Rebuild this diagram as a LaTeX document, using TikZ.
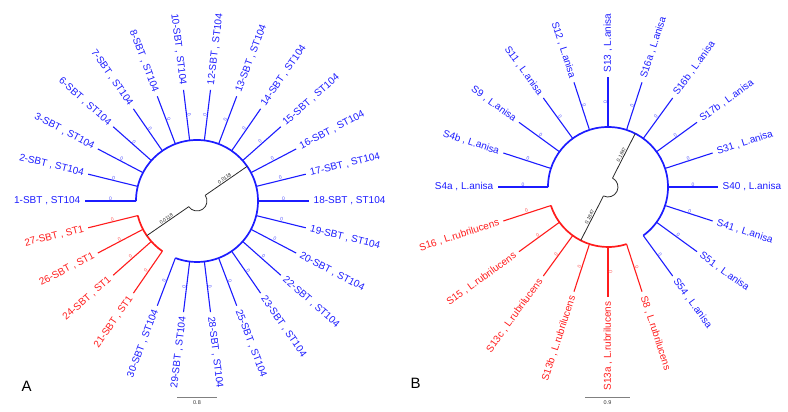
\documentclass[tikz,border=0pt]{standalone}
\usepackage{fontspec}
\setmainfont{Liberation Sans}
\usetikzlibrary{positioning,calc}
\definecolor{cladeblue}{RGB}{28,28,255}
\definecolor{cladered}{RGB}{255,28,28}
\definecolor{rootgray}{RGB}{40,40,40}

\begin{document}
\begin{tikzpicture}[
    x=1pt, y=1pt,
    leaf/.style={line width=1.1pt},
    clade/.style={line width=1.7pt},
    rootline/.style={draw=rootgray, line width=0.8pt},
    taxon/.style={inner sep=0pt, font=\fontsize{10}{12}\selectfont},
    zero/.style={inner sep=0.6pt, font=\fontsize{5}{6}\selectfont},
    blen/.style={inner sep=0.8pt, text=rootgray, font=\fontsize{5}{6}\selectfont},
    scalebar/.style={draw=gray, line width=0.9pt},
    scaletext/.style={inner sep=0pt, text=black!80, font=\fontsize{5.5}{6}\selectfont},
    panel/.style={inner sep=0pt, font=\fontsize{15}{18}\selectfont}
]
\useasboundingbox (0,0) rectangle (788,412);

% (A) SBT isolates
\coordinate (ca) at (197,211);
\foreach \nm/\st [count=\i from 0] in {1-SBT/ST104, 2-SBT/ST104, 3-SBT/ST104, 6-SBT/ST104, 7-SBT/ST104, 8-SBT/ST104, 10-SBT/ST104, 12-SBT/ST104, 13-SBT/ST104, 14-SBT/ST104, 15-SBT/ST104, 16-SBT/ST104, 17-SBT/ST104, 18-SBT/ST104, 19-SBT/ST104, 20-SBT/ST104, 22-SBT/ST104, 23-SBT/ST104, 25-SBT/ST104, 28-SBT/ST104, 29-SBT/ST104, 30-SBT/ST104, 21-SBT/ST1, 24-SBT/ST1, 26-SBT/ST1, 27-SBT/ST1}{
    \pgfmathsetmacro{\ang}{180-\i*360/26}
    \pgfmathtruncatemacro{\flip}{(\ang>90 || \ang<=-90)}
    \ifnum\i<22 \def\col{cladeblue}\else\def\col{cladered}\fi
    \ifnum\flip=1 \pgfmathsetmacro{\rot}{\ang+180}\def\anc{east}\else\let\rot\ang\def\anc{west}\fi
    \coordinate (ain\i) at ($(ca)+(\ang:61)$);
    \coordinate (aout\i) at ($(ca)+(\ang:112)$);
    \draw[leaf, color=\col] (ain\i) -- (aout\i);
    \path (ain\i) -- node[zero, sloped, above, text=\col!75] {0} (aout\i);
    \node[taxon, text=\col, rotate=\rot, anchor=\anc] (alab\i) at ($(ca)+(\ang:116.5)$) {\nm{} , \st};
}

\draw[clade, draw=cladeblue] (ain0) arc[start angle=180, end angle=-110.769, radius=61pt];
\draw[clade, draw=cladered] (ain22) arc[start angle=-124.615, end angle=-166.154, radius=61pt];

\coordinate (ablue) at ($(ca)+(34.615:61)$);
\coordinate (ared) at ($(ca)+(-145.385:61)$);
\coordinate (aroot1) at ($(ca)+(34.615:10)$);
\coordinate (aroot2) at ($(ca)+(-145.385:10)$);
\draw[rootline] (ablue) -- (aroot1);
\draw[rootline] (aroot1) arc[start angle=34.615, end angle=-145.385, radius=10pt];
\draw[rootline] (aroot2) -- (ared);
\path (ablue) -- node[blen, sloped, above] {0.0118} (aroot1);
\path (aroot2) -- node[blen, sloped, above] {0.0118} (ared);

\coordinate (sa1) at (177,15);
\coordinate (sa2) at (217,15);
\draw[scalebar] (sa1) -- (sa2);
\path (sa1) -- node[scaletext, below=3pt] {0.8} (sa2);
\node[panel] (pa) at (26.7,25.7) {A};

% (B) Lactarius samples
\coordinate (cb) at (608,225);
\foreach \nm/\st [count=\i from 0] in {S4a/L.anisa, S4b/L.anisa, S9/L.anisa, S11/L.anisa, S12/L.anisa, S13/L.anisa, S16a/L.anisa, S16b/L.anisa, S17b/L.anisa, S31/L.anisa, S40/L.anisa, S41/L.anisa, S51/L.anisa, S54/L.anisa, S8/L.rubrilucens, S13a/L.rubrilucens, S13b/L.rubrilucens, S13c/L.rubrilucens, S15/L.rubrilucens, S16/L.rubrilucens}{
    \pgfmathsetmacro{\ang}{180-\i*18}
    \pgfmathtruncatemacro{\flip}{(\ang>90 || \ang<=-90)}
    \ifnum\i<14 \def\col{cladeblue}\else\def\col{cladered}\fi
    \ifnum\flip=1 \pgfmathsetmacro{\rot}{\ang+180}\def\anc{east}\else\let\rot\ang\def\anc{west}\fi
    \coordinate (bin\i) at ($(cb)+(\ang:60)$);
    \coordinate (bout\i) at ($(cb)+(\ang:110)$);
    \draw[leaf, color=\col] (bin\i) -- (bout\i);
    \path (bin\i) -- node[zero, sloped, above, text=\col!75] {0} (bout\i);
    \node[taxon, text=\col, rotate=\rot, anchor=\anc] (blab\i) at ($(cb)+(\ang:114.5)$) {\nm{} , \st};
}

\draw[clade, draw=cladeblue] (bin0) arc[start angle=180, end angle=-54, radius=60pt];
\draw[clade, draw=cladered] (bin14) arc[start angle=-72, end angle=-162, radius=60pt];

\coordinate (bblue) at ($(cb)+(63:60)$);
\coordinate (bred) at ($(cb)+(-117:60)$);
\coordinate (broot1) at ($(cb)+(63:10)$);
\coordinate (broot2) at ($(cb)+(-117:10)$);
\draw[rootline] (bblue) -- (broot1);
\draw[rootline] (broot1) arc[start angle=63, end angle=-117, radius=10pt];
\draw[rootline] (broot2) -- (bred);
\path (bblue) -- node[blen, sloped, above] {0.1847} (broot1);
\path (broot2) -- node[blen, sloped, above] {0.1847} (bred);

\coordinate (sb1) at (585,15);
\coordinate (sb2) at (630,15);
\draw[scalebar] (sb1) -- (sb2);
\path (sb1) -- node[scaletext, below=3pt] {0.9} (sb2);
\node[panel] (pb) at (415.5,28.7) {B};

\end{tikzpicture}
\end{document}
